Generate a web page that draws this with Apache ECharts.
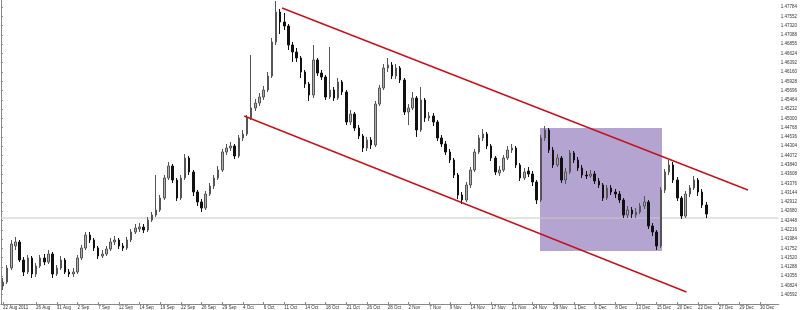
<!DOCTYPE html>
<html>
<head>
<meta charset="utf-8">
<script src="https://cdn.jsdelivr.net/npm/echarts@6/dist/echarts.min.js"></script>
<style>html,body{margin:0;padding:0;background:#fff}#c{width:800px;height:310px}</style>
</head>
<body>
<div id="c"></div>
<script>
// ---- data ----
const slotCount = 188; // bar slots on the time axis (including empty future slots)
const firstLabel = '22 Aug 2011';
const dateLabels = ['26 Aug','31 Aug','2 Sep','7 Sep','12 Sep','14 Sep','19 Sep','22 Sep','26 Sep','29 Sep',
  '4 Oct','6 Oct','11 Oct','14 Oct','18 Oct','21 Oct','26 Oct','28 Oct','2 Nov','7 Nov',
  '9 Nov','14 Nov','17 Nov','21 Nov','24 Nov','29 Nov','1 Dec','6 Dec','8 Dec','13 Dec',
  '15 Dec','20 Dec','22 Dec','27 Dec','29 Dec','30 Dec'];

const opens = [
1.40810,1.40910,1.41260,1.41810,1.41910,1.41460,1.41160,1.41510,1.41110,1.41310,
1.41510,1.41410,1.41610,1.41110,1.41260,1.41460,1.41160,1.41110,1.41160,1.41510,
1.41760,1.42085,1.41960,1.41760,1.41560,1.41610,1.41735,1.41910,1.41960,1.41810,
1.41760,1.41960,1.42160,1.42235,1.42285,1.42210,1.42460,1.42585,1.42710,1.43010,
1.43510,1.43810,1.43460,1.43010,1.43510,1.44010,1.43660,1.43160,1.42910,1.42760,
1.43110,1.43310,1.43510,1.43710,1.44160,1.44260,1.44310,1.44060,1.44510,1.44610,
1.45010,1.45260,1.45385,1.45535,1.45710,1.46060,1.46910,1.47660,1.47410,1.47310,
1.46835,1.46660,1.46510,1.46160,1.45860,1.45585,1.46460,1.46135,1.46035,1.45535,
1.45710,1.45510,1.45910,1.45660,1.44910,1.45110,1.44760,1.44560,1.44260,1.44460,
1.44335,1.45360,1.45760,1.46260,1.46335,1.46060,1.46260,1.45960,1.45160,1.45260,
1.45510,1.44710,1.45460,1.45010,1.45060,1.44910,1.44510,1.44360,1.44160,1.43960,
1.43585,1.43085,1.42960,1.43335,1.43710,1.44160,1.44510,1.44610,1.44310,1.44010,
1.43635,1.43710,1.44010,1.44210,1.44260,1.43835,1.43510,1.43685,1.43610,1.43410,
1.42960,1.44510,1.44710,1.44210,1.43835,1.44010,1.43460,1.43660,1.44135,1.43960,
1.43760,1.43585,1.43560,1.43610,1.43435,1.43335,1.43010,1.43260,1.43160,1.43110,
1.42960,1.42585,1.42710,1.42585,1.42660,1.42810,1.42910,1.42310,1.42160,1.41810,
1.43210,1.43660,1.43835,1.43460,1.43010,1.42560,1.43110,1.43260,1.43460,1.43160,
1.42835];
const closes = [
1.40910,1.41260,1.41860,1.41910,1.41460,1.41160,1.41510,1.41110,1.41310,1.41510,
1.41410,1.41610,1.41110,1.41260,1.41460,1.41160,1.41110,1.41160,1.41510,1.41760,
1.42085,1.41960,1.41760,1.41560,1.41610,1.41735,1.41910,1.41960,1.41810,1.41760,
1.41960,1.42160,1.42260,1.42285,1.42210,1.42460,1.42585,1.42710,1.43010,1.43510,
1.43810,1.43460,1.43010,1.43510,1.44010,1.43660,1.43160,1.42910,1.42760,1.43110,
1.43310,1.43510,1.43710,1.44160,1.44260,1.44310,1.44060,1.44510,1.44610,1.45010,
1.45260,1.45385,1.45535,1.45710,1.46060,1.46910,1.47660,1.47410,1.47310,1.46835,
1.46660,1.46510,1.46160,1.45860,1.45585,1.46460,1.46135,1.46035,1.45535,1.45710,
1.45510,1.45910,1.45660,1.44910,1.45110,1.44760,1.44560,1.44260,1.44460,1.44335,
1.45360,1.45760,1.46260,1.46335,1.46060,1.46260,1.45960,1.45160,1.45260,1.45510,
1.44710,1.45460,1.45010,1.45060,1.44910,1.44510,1.44360,1.44160,1.43960,1.43585,
1.43085,1.42960,1.43335,1.43710,1.44160,1.44510,1.44610,1.44310,1.44010,1.43660,
1.43710,1.44010,1.44210,1.44260,1.43835,1.43510,1.43660,1.43610,1.43410,1.42960,
1.44510,1.44710,1.44210,1.43835,1.44010,1.43460,1.43660,1.44135,1.43960,1.43760,
1.43585,1.43560,1.43610,1.43435,1.43335,1.43010,1.43260,1.43160,1.43110,1.42960,
1.42585,1.42710,1.42610,1.42660,1.42810,1.42910,1.42310,1.42160,1.41810,1.43210,
1.43660,1.43835,1.43460,1.43010,1.42560,1.43110,1.43260,1.43460,1.43160,1.42835,
1.42610];
const lows = [
1.40710,1.40860,1.41210,1.41710,1.41410,1.41060,1.41110,1.41010,1.41035,1.41260,
1.41335,1.41360,1.41010,1.41060,1.41210,1.41110,1.41035,1.41035,1.41110,1.41460,
1.41710,1.41885,1.41685,1.41485,1.41510,1.41560,1.41685,1.41835,1.41735,1.41685,
1.41710,1.41910,1.42110,1.42160,1.42135,1.42160,1.42410,1.42535,1.42660,1.42960,
1.43460,1.43385,1.42935,1.42960,1.43460,1.43585,1.43060,1.42810,1.42660,1.42710,
1.43060,1.43235,1.43460,1.43660,1.44085,1.44185,1.43985,1.44010,1.44435,1.44560,
1.44960,1.45185,1.45310,1.45460,1.45660,1.46010,1.46835,1.47110,1.47210,1.46710,
1.46410,1.46410,1.46010,1.45760,1.45435,1.45510,1.46060,1.45960,1.45460,1.45485,
1.45435,1.45460,1.45585,1.44835,1.44835,1.44685,1.44485,1.44160,1.44185,1.44235,
1.44285,1.45310,1.45710,1.46160,1.45985,1.45985,1.45885,1.45085,1.44835,1.45210,
1.44535,1.44660,1.44910,1.44935,1.44810,1.44435,1.44285,1.44085,1.43885,1.43510,
1.42985,1.42860,1.42910,1.43260,1.43660,1.44110,1.44435,1.44235,1.43935,1.43585,
1.43560,1.43660,1.43960,1.44135,1.43760,1.43435,1.43460,1.43535,1.43310,1.42860,
1.42910,1.44435,1.44135,1.43760,1.43785,1.43385,1.43360,1.43610,1.43885,1.43685,
1.43510,1.43485,1.43510,1.43360,1.43260,1.42935,1.42960,1.43085,1.43010,1.42885,
1.42510,1.42510,1.42510,1.42510,1.42610,1.42735,1.42235,1.42060,1.41710,1.41760,
1.43135,1.43585,1.43385,1.42935,1.42485,1.42510,1.43035,1.43210,1.43060,1.42760,
1.42510];
const highs = [
1.41010,1.41335,1.41960,1.42035,1.41960,1.41535,1.41585,1.41560,1.41385,1.41585,
1.41610,1.41710,1.41660,1.41335,1.41560,1.41510,1.41235,1.41260,1.41585,1.41835,
1.42160,1.42160,1.42010,1.41810,1.41710,1.41810,1.42010,1.42060,1.42010,1.41885,
1.42035,1.42235,1.42360,1.42385,1.42360,1.42535,1.42660,1.43585,1.43085,1.43585,
1.43910,1.43860,1.43510,1.43585,1.44110,1.44060,1.43710,1.43210,1.42985,1.43185,
1.43385,1.43585,1.43810,1.44235,1.44360,1.44410,1.44360,1.44585,1.44710,1.45085,
1.46585,1.45485,1.45635,1.45810,1.46160,1.47010,1.47935,1.47735,1.47635,1.47360,
1.46910,1.46760,1.46560,1.46210,1.45910,1.46835,1.46510,1.46210,1.46085,1.46785,
1.45785,1.46010,1.45960,1.45710,1.45210,1.45160,1.44835,1.44610,1.44535,1.44535,
1.45435,1.45835,1.46360,1.46510,1.46410,1.46360,1.46310,1.46010,1.45360,1.45660,
1.45560,1.45785,1.45510,1.45160,1.45135,1.44960,1.44585,1.44435,1.44235,1.44010,
1.43635,1.43160,1.43410,1.43785,1.44235,1.44585,1.44735,1.44660,1.44360,1.44060,
1.43810,1.44085,1.44310,1.44360,1.44310,1.43885,1.43760,1.43785,1.43685,1.43460,
1.44585,1.44810,1.44760,1.44285,1.44110,1.44060,1.43760,1.44210,1.44185,1.44035,
1.43835,1.43685,1.43710,1.43685,1.43510,1.43385,1.43335,1.43335,1.43235,1.43185,
1.43010,1.42810,1.42785,1.42760,1.42885,1.43060,1.42960,1.42385,1.42210,1.43285,
1.43735,1.43960,1.43910,1.43535,1.43060,1.43185,1.43335,1.43560,1.43510,1.43235,
1.42910];

// trend channel lines: [slot position, price]
const upperLine = [[67.95, 1.47760], [180.55, 1.43210]];
const lowerLine = [[58.8, 1.45060], [165.7, 1.40660]];
// highlighted box: [slot from, price top], [slot to, price bottom]
const boxFrom = [130.3, 1.44760];
const boxTo = [159.8, 1.41685];
const bidPrice = 1.42510;

// y axis
const yMin = 1.40360, yMax = 1.47960, yStep = 0.00232;

// ---- build ----
const categories = [];
for (let i = 0; i < slotCount; i++) categories.push('s' + i);
const labelAt = {0: firstLabel};
dateLabels.forEach((d, k) => { labelAt[8 + 5 * k] = d; });

const candles = opens.map((o, i) => [o, closes[i], lows[i], highs[i]]);

const chart = echarts.init(document.getElementById('c'), null, {renderer: 'canvas'});
const font = 'Liberation Sans';
chart.setOption({
  animation: false,
  backgroundColor: '#ffffff',
  grid: {left: 0, right: 17, top: 0, bottom: 6, containLabel: false},
  xAxis: [{
    type: 'category', data: categories, boundaryGap: true,
    axisLine: {show: true, lineStyle: {color: '#888', width: 1}},
    axisTick: {show: true, inside: true, length: 2, lineStyle: {color: '#888'},
      interval: (idx) => labelAt[idx] !== undefined, alignWithLabel: true},
    axisLabel: {show: true, interval: (idx) => labelAt[idx] !== undefined,
      formatter: (v, idx) => labelAt[idx] || '', fontSize: 4.5, color: '#333',
      fontFamily: font, margin: 1, align: 'left'},
    splitLine: {show: false}
  }, {
    type: 'value', min: 0, max: slotCount, show: false
  }],
  yAxis: {
    type: 'value', position: 'right', min: yMin, max: yMax, interval: yStep,
    axisLine: {show: true, lineStyle: {color: '#888', width: 1}},
    axisTick: {show: true, length: 2, lineStyle: {color: '#888'}},
    axisLabel: {fontSize: 4.5, color: '#333', fontFamily: font, margin: 2,
      showMinLabel: false, showMaxLabel: false,
      formatter: (v) => v.toFixed(5)},
    splitLine: {show: false}
  },
  series: [
    {
      type: 'line', xAxisIndex: 1, z: 1, silent: true, symbol: 'none',
      data: [[0, bidPrice], [slotCount, bidPrice]],
      lineStyle: {color: '#c8c8c8', width: 1}
    },
    {
      type: 'line', xAxisIndex: 1, z: 2, silent: true, symbol: 'none', data: [],
      markArea: {silent: true, itemStyle: {color: '#b3a4d1', opacity: 1},
        data: [[{coord: boxFrom}, {coord: boxTo}]]}
    },
    {
      type: 'candlestick', z: 3, data: candles, barWidth: 2,
      itemStyle: {color: '#b0b0b0', color0: '#111111', borderColor: '#555555', borderColor0: '#111111', borderWidth: 1}
    },
    {
      type: 'line', xAxisIndex: 1, z: 4, silent: true, symbol: 'none',
      data: upperLine, lineStyle: {color: '#c8101a', width: 1.4}
    },
    {
      type: 'line', xAxisIndex: 1, z: 4, silent: true, symbol: 'none',
      data: lowerLine, lineStyle: {color: '#c8101a', width: 1.4}
    }
  ]
});
</script>
</body>
</html>
